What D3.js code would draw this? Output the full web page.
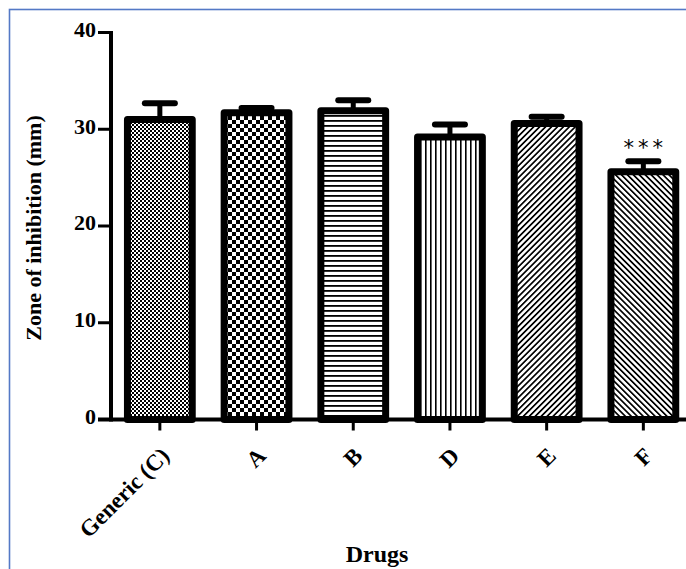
<!DOCTYPE html>
<html><head><meta charset="utf-8">
<script src="https://cdn.jsdelivr.net/npm/d3@7"></script>
<style>
html,body{margin:0;padding:0;background:#fff;}
svg{display:block;}
text{font-family:"Liberation Serif","Times New Roman",serif;font-weight:bold;fill:#000;}
</style></head>
<body>
<svg id="chart" width="686" height="569"></svg>
<script>
const categories = ["Generic (C)", "A", "B", "D", "E", "F"];
const means = [31.0, 31.7, 31.9, 29.2, 30.6, 25.6];
const sems = [1.7, 0.5, 1.1, 1.3, 0.7, 1.1];
const significance = ["", "", "", "", "", "***"];
const yTicks = [0, 10, 20, 30, 40];
const patternIds = ["pFineCheck", "pCheck", "pHoriz", "pVert", "pDiagUp", "pDiagDown"];

const svg = d3.select("#chart");
const W = 686, H = 569;

// frame
svg.append("rect").attr("x", 9.5).attr("y", 9.5).attr("width", 800).attr("height", 800)
  .attr("fill", "none").attr("stroke", "#5479c6").attr("stroke-width", 1.6);

// patterns
const defs = svg.append("defs");
function pat(id, w, h) {
  const p = defs.append("pattern").attr("id", id).attr("patternUnits", "userSpaceOnUse")
    .attr("width", w).attr("height", h);
  p.append("rect").attr("width", w).attr("height", h).attr("fill", "#fff");
  return p;
}
let p = pat("pFineCheck", 4, 4);
p.append("rect").attr("width", 2).attr("height", 2).attr("fill", "#000");
p.append("rect").attr("x", 2).attr("y", 2).attr("width", 2).attr("height", 2).attr("fill", "#000");
p = pat("pCheck", 8, 8);
p.append("rect").attr("width", 4).attr("height", 4).attr("fill", "#000");
p.append("rect").attr("x", 4).attr("y", 4).attr("width", 4).attr("height", 4).attr("fill", "#000");
p = pat("pHoriz", 5, 5);
p.append("rect").attr("y", 0).attr("width", 5).attr("height", 1.8).attr("fill", "#000");
p = pat("pVert", 5, 5);
p.append("rect").attr("x", 0).attr("width", 1.6).attr("height", 5).attr("fill", "#000");
p = defs.append("pattern").attr("id", "pDiagUp").attr("patternUnits", "userSpaceOnUse")
  .attr("width", 4.2).attr("height", 4.2).attr("patternTransform", "rotate(45)");
p.append("rect").attr("width", 4.2).attr("height", 4.2).attr("fill", "#fff");
p.append("rect").attr("width", 1.7).attr("height", 4.2).attr("fill", "#000");
p = defs.append("pattern").attr("id", "pDiagDown").attr("patternUnits", "userSpaceOnUse")
  .attr("width", 4.2).attr("height", 4.2).attr("patternTransform", "rotate(-45)");
p.append("rect").attr("width", 4.2).attr("height", 4.2).attr("fill", "#fff");
p.append("rect").attr("width", 1.7).attr("height", 4.2).attr("fill", "#000");

// scales
const y = d3.scaleLinear().domain([0, 40]).range([419.5, 32.5]);
const x = d3.scaleBand().domain(categories).range([111.5, 691.7])
  .paddingInner(0.33).paddingOuter(0.165);

// bars
const g = svg.append("g");
const bw = x.bandwidth();
categories.forEach((c, i) => {
  const cx = x(c) + bw / 2;
  const top = y(means[i]);
  const errTop = y(means[i] + sems[i]);
  g.append("line").attr("x1", cx).attr("x2", cx).attr("y1", top).attr("y2", errTop)
    .attr("stroke", "#000").attr("stroke-width", 5);
  g.append("line").attr("x1", cx - 15).attr("x2", cx + 15).attr("y1", errTop).attr("y2", errTop)
    .attr("stroke", "#000").attr("stroke-width", 6).attr("stroke-linecap", "round");
  g.append("rect").attr("x", x(c)).attr("y", top).attr("width", bw).attr("height", y(0) - top)
    .attr("fill", `url(#${patternIds[i]})`).attr("stroke", "#000").attr("stroke-width", 7)
    .attr("stroke-linejoin", "round");
  if (significance[i]) {
    g.append("text").attr("x", cx + 2).attr("y", errTop - 6).attr("text-anchor", "middle")
      .style("font-family", "'DejaVu Sans', sans-serif").style("font-weight", "normal")
      .style("font-size", "21px").style("letter-spacing", "4px")
      .text(significance[i]);
  }
});

// y axis
const yAxis = svg.append("g");
yAxis.append("line").attr("x1", 111).attr("x2", 111).attr("y1", y(40) - 1.5).attr("y2", y(0) + 2)
  .attr("stroke", "#000").attr("stroke-width", 4);
yTicks.forEach(t => {
  yAxis.append("line").attr("x1", 98).attr("x2", 111).attr("y1", y(t)).attr("y2", y(t))
    .attr("stroke", "#000").attr("stroke-width", 3);
  yAxis.append("text").attr("x", 96).attr("y", y(t)).attr("dy", "0.2em")
    .attr("text-anchor", "end").style("font-size", "22px").text(t);
});

// x axis
const xAxis = svg.append("g");
xAxis.append("line").attr("x1", 98).attr("x2", W).attr("y1", y(0)).attr("y2", y(0))
  .attr("stroke", "#000").attr("stroke-width", 4);
categories.forEach(c => {
  const cx = x(c) + bw / 2;
  xAxis.append("line").attr("x1", cx).attr("x2", cx).attr("y1", y(0)).attr("y2", y(0) + 11)
    .attr("stroke", "#000").attr("stroke-width", 3);
  xAxis.append("text").attr("transform", `translate(${cx + 5},${y(0) + 32}) rotate(-45)`)
    .attr("text-anchor", "end").attr("dy", "0.35em").style("font-size", "23px").text(c);
});

// axis titles
svg.append("text").attr("transform", `translate(41,${(y(0) + y(40)) / 2 + 2}) rotate(-90)`)
  .attr("text-anchor", "middle").style("font-size", "22px").text("Zone of inhibition (mm)");
svg.append("text").attr("x", 377).attr("y", 562).attr("text-anchor", "middle")
  .style("font-size", "24px").text("Drugs");
</script>
</body></html>
